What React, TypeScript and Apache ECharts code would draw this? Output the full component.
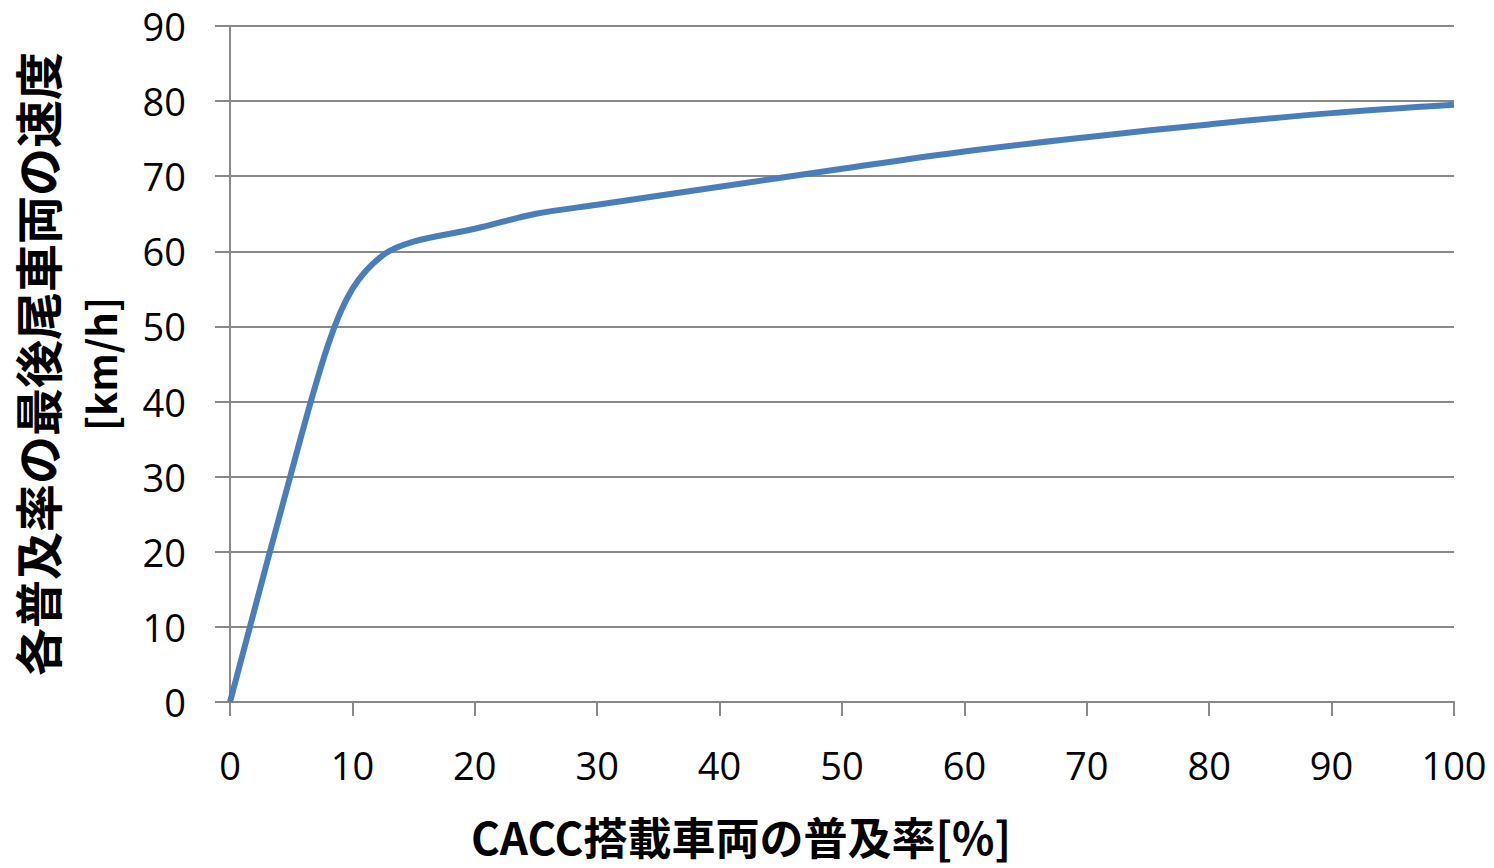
import React, { useEffect, useRef } from "react";
import * as echarts from "echarts";

// CACC penetration rate [%]
const penetration = [0, 5, 8, 10, 12.5, 15, 20, 25, 30, 40, 50, 60, 70, 80, 90, 100];
// Speed of the last vehicle in the platoon [km/h]
const speed = [0, 30.5, 47.5, 55, 59.5, 61.3, 63, 65, 66.2, 68.6, 71, 73.3, 75.2, 76.9, 78.4, 79.5];

const xTicks = { min: 0, max: 100, interval: 10 };
const yTicks = { min: 0, max: 90, interval: 10 };

const yTitle = "各普及率の最後尾車両の速度";
const yUnit = "[km/h]";
const xTitle = "CACC搭載車両の普及率[%]";

const GRAY = "#898989";
const JP_FONT = "'Noto Sans CJK JP', 'Noto Sans', sans-serif";
const NUM_FONT = "'Open Sans', 'Noto Sans', sans-serif";

export default function App() {
  const ref = useRef<HTMLDivElement>(null);

  useEffect(() => {
    if (!ref.current) return;
    const chart = echarts.init(ref.current, undefined, { renderer: "svg" });
    chart.setOption({
      animation: false,
      backgroundColor: "#ffffff",
      grid: { left: 230, right: 40, top: 26, bottom: 166, containLabel: false },
      xAxis: {
        type: "value",
        min: xTicks.min,
        max: xTicks.max,
        interval: xTicks.interval,
        axisLine: { show: true, lineStyle: { color: GRAY, width: 2 } },
        axisTick: { show: true, length: 14, lineStyle: { color: GRAY, width: 2 } },
        splitLine: { show: false },
        axisLabel: { color: "#000", fontSize: 38, fontFamily: NUM_FONT, margin: 44 },
      },
      yAxis: {
        type: "value",
        min: yTicks.min,
        max: yTicks.max,
        interval: yTicks.interval,
        axisLine: { show: true, lineStyle: { color: GRAY, width: 2 } },
        axisTick: { show: true, length: 15, lineStyle: { color: GRAY, width: 2 } },
        splitLine: { show: true, lineStyle: { color: GRAY, width: 2 } },
        axisLabel: { color: "#000", fontSize: 38, fontFamily: NUM_FONT, margin: 44 },
      },
      series: [
        {
          type: "line",
          data: penetration.map((p, i) => [p, speed[i]]),
          smooth: 0.35,
          showSymbol: false,
          lineStyle: { color: "#4a7ebb", width: 6 },
        },
      ],
      graphic: [
        {
          type: "text",
          x: 36,
          y: 364,
          rotation: Math.PI / 2,
          style: {
            text: yTitle,
            font: `bold 48px ${JP_FONT}`,
            lineHeight: 50,
            fill: "#000",
            align: "center",
            verticalAlign: "middle",
          },
        },
        {
          type: "text",
          x: 100,
          y: 364,
          rotation: Math.PI / 2,
          style: {
            text: yUnit,
            font: `bold 40px ${JP_FONT}`,
            lineHeight: 42,
            fill: "#000",
            align: "center",
            verticalAlign: "middle",
          },
        },
        {
          type: "text",
          x: 741,
          y: 836,
          style: {
            text: xTitle,
            font: `bold 44px ${JP_FONT}`,
            lineHeight: 44,
            fill: "#000",
            align: "center",
            verticalAlign: "middle",
          },
        },
      ],
    });
    return () => chart.dispose();
  }, []);

  return (
    <div
      ref={ref}
      style={{ position: "fixed", left: 0, top: 0, width: 1494, height: 868, background: "#fff" }}
    />
  );
}
